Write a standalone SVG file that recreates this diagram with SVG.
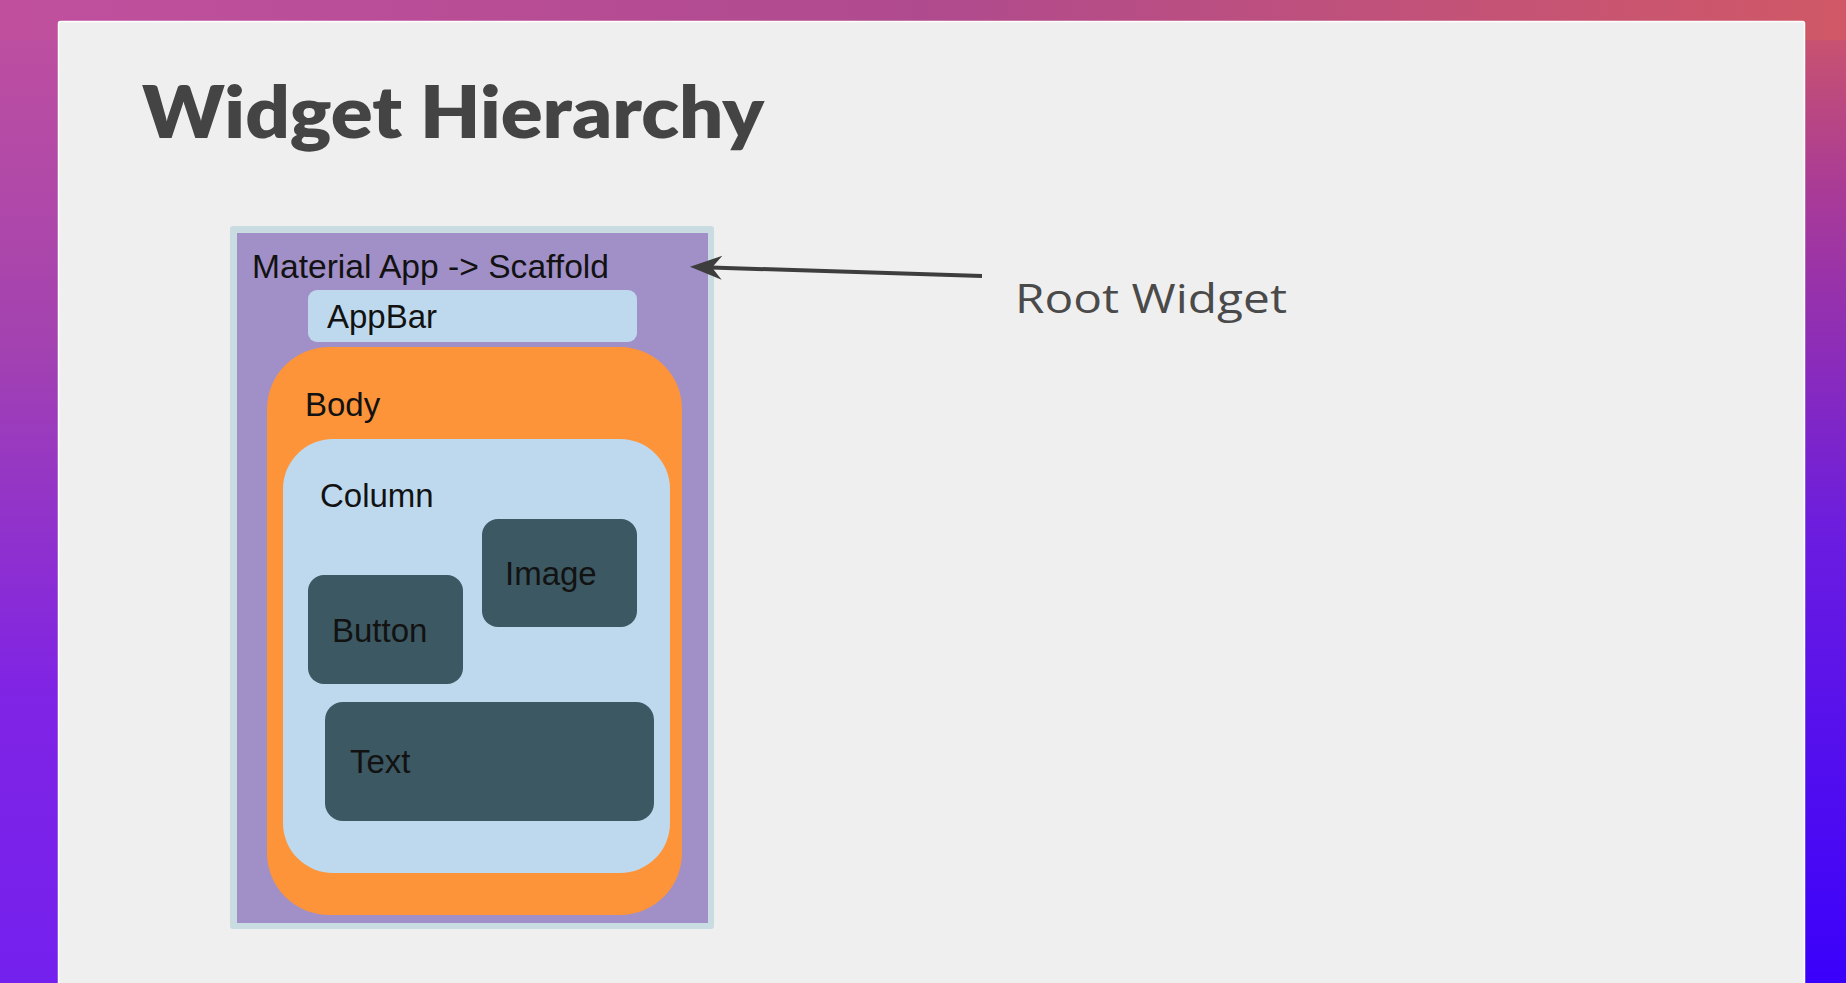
<svg xmlns="http://www.w3.org/2000/svg" width="1846" height="983" viewBox="0 0 1846 983">
  <defs>
    <linearGradient id="gTop" x1="0" y1="0" x2="1" y2="0">
      <stop offset="0" stop-color="#c0509e"/>
      <stop offset="0.5" stop-color="#b04a8e"/>
      <stop offset="1" stop-color="#d05866"/>
    </linearGradient>
    <linearGradient id="gLeft" x1="0" y1="0" x2="0" y2="1">
      <stop offset="0" stop-color="#c0509e"/>
      <stop offset="0.35" stop-color="#a342b0"/>
      <stop offset="0.7" stop-color="#8024e4"/>
      <stop offset="1" stop-color="#7420ee"/>
    </linearGradient>
    <linearGradient id="gRight" x1="0" y1="0" x2="0" y2="1">
      <stop offset="0" stop-color="#d05866"/>
      <stop offset="0.2" stop-color="#a83a98"/>
      <stop offset="0.55" stop-color="#6a1ce0"/>
      <stop offset="1" stop-color="#3a00fb"/>
    </linearGradient>
    <marker id="arrowHead" markerUnits="userSpaceOnUse" viewBox="-36 -14 40 28" markerWidth="40" markerHeight="28" refX="-6" refY="0" orient="auto">
      <path d="M0,0 L-32,-12 L-22,0 L-32,12 Z" fill="#3d3d3d"/>
    </marker>
    <style>
      .lbl { font-family: "Liberation Sans", Arial, sans-serif; font-size: 33px; fill: #121212; }
      .dark { fill: #3c5862; }
    </style>
  </defs>

  <!-- background -->
  <rect x="0" y="0" width="1846" height="983" fill="url(#gLeft)"/>
  <rect x="900" y="0" width="946" height="983" fill="url(#gRight)"/>
  <rect x="0" y="0" width="1846" height="40" fill="url(#gTop)"/>

  <!-- slide card -->
  <rect x="58.5" y="21.5" width="1746" height="980" rx="2" fill="#efefef" stroke="#ffffff" stroke-width="1.5"/>

  <!-- title -->
  <text x="142" y="138" font-family="Lato, 'Open Sans', sans-serif" font-weight="800" font-size="72" fill="#444444" textLength="622" lengthAdjust="spacingAndGlyphs">Widget Hierarchy</text>

  <g id="material-app">
    <rect x="230" y="226" width="484" height="703" rx="3" fill="#c8dce2"/>
    <rect x="237" y="233" width="471" height="690" fill="#a18fc8"/>
    <text class="lbl" x="252" y="278" textLength="357" lengthAdjust="spacingAndGlyphs">Material App -&gt; Scaffold</text>
  </g>

  <g id="appbar">
    <rect x="308" y="290" width="329" height="52" rx="9" fill="#bed9ee"/>
    <text class="lbl" x="327" y="328">AppBar</text>
  </g>

  <g id="body">
    <rect x="267" y="347" width="415" height="568" rx="62" fill="#fd943a"/>
    <text class="lbl" x="305" y="416">Body</text>
  </g>

  <g id="column">
    <rect x="283" y="439" width="387" height="434" rx="50" fill="#bed9ee"/>
    <text class="lbl" x="320" y="507">Column</text>
  </g>

  <g id="image">
    <rect class="dark" x="482" y="519" width="155" height="108" rx="16"/>
    <text class="lbl" x="505" y="585">Image</text>
  </g>

  <g id="button">
    <rect class="dark" x="308" y="575" width="155" height="109" rx="16"/>
    <text class="lbl" x="332" y="642">Button</text>
  </g>

  <g id="text">
    <rect class="dark" x="325" y="702" width="329" height="119" rx="18"/>
    <text class="lbl" x="350" y="773">Text</text>
  </g>

  <g id="root-label">
    <text x="1015" y="313" font-family="'Open Sans', Lato, sans-serif" font-weight="400" font-size="41" fill="#4a4a4a" textLength="272" lengthAdjust="spacingAndGlyphs">Root Widget</text>
  </g>

  <g id="connectors">
    <line x1="982" y1="276" x2="696" y2="267" stroke="#3d3d3d" stroke-width="4" marker-end="url(#arrowHead)"/>
  </g>
</svg>
